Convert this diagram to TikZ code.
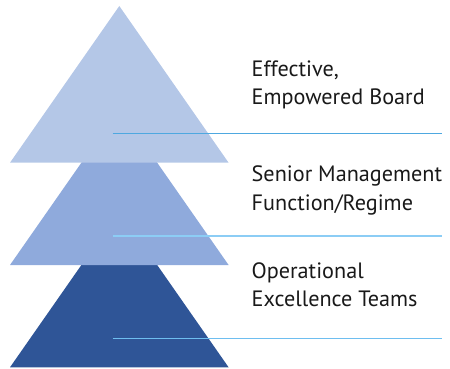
\documentclass[tikz,border=0pt]{standalone}
\usepackage{fontspec}
\setmainfont{PT Sans}
\definecolor{tierTop}{RGB}{180,199,231}
\definecolor{tierMid}{RGB}{143,170,220}
\definecolor{tierLow}{RGB}{47,85,151}
\definecolor{ruleA}{RGB}{78,168,224}
\definecolor{ruleB}{RGB}{140,205,245}
\definecolor{ruleC}{RGB}{110,190,240}
\begin{document}
\begin{tikzpicture}[x=1pt,y=-1pt,
  tier/.style={fill=#1,draw=none},
  leader/.style={draw=#1,line width=1.1pt},
  label/.style={anchor=base west,align=left,inner sep=0pt,
    font=\fontsize{22.2}{28.5}\selectfont,text=black!90}]
\useasboundingbox (0,0) rectangle (450,369);
% stacked triangles, lowest first so the upper ones overlap it
\fill[tier=tierLow] (10,367.3) -- (119.3,210.7) -- (228.6,367.3) -- cycle;
\fill[tier=tierMid] (10,265) -- (119.3,108.4) -- (228.6,265) -- cycle;
\fill[tier=tierTop] (10,162.7) -- (119.3,6) -- (228.6,162.7) -- cycle;
% leader lines
\coordinate (a1) at (112.7,133.3); \coordinate (a2) at (441.5,133.3);
\coordinate (b1) at (112.7,236);   \coordinate (b2) at (441.5,236);
\coordinate (c1) at (112.7,338.3); \coordinate (c2) at (441.5,338.3);
\draw[leader=ruleA] (a1) -- (a2);
\draw[leader=ruleB] (b1) -- (b2);
\draw[leader=ruleC] (c1) -- (c2);
% labels (base anchor sits on the last line)
\node[label] (board) at (251.5,105) {Effective,\\Empowered Board};
\node[label] (smf) at (251.5,210) {Senior Management\\Function/Regime};
\node[label] (ops) at (251.5,306.7) {Operational\\Excellence Teams};
\end{tikzpicture}
\end{document}
